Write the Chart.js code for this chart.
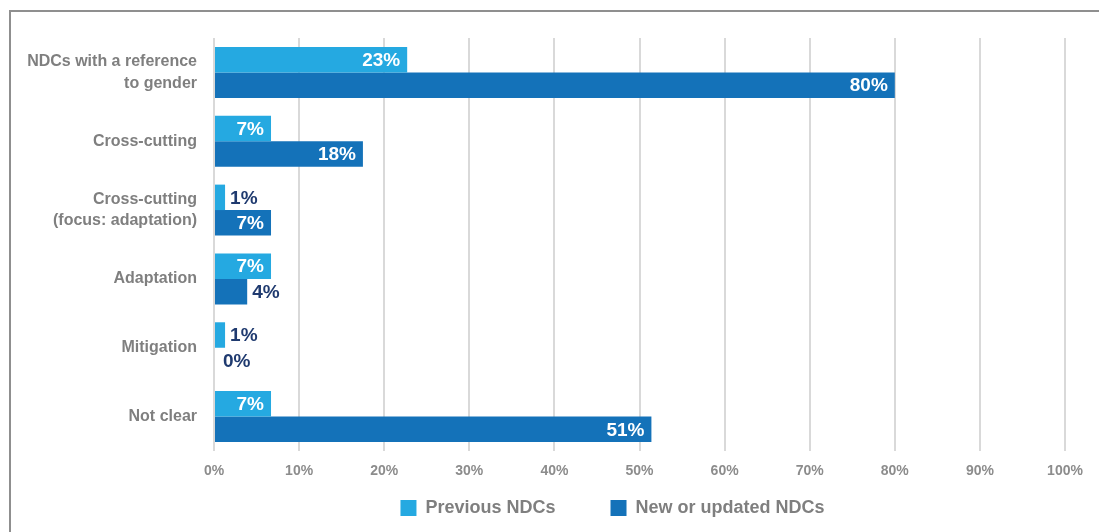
<!DOCTYPE html>
<html>
<head>
<meta charset="utf-8">
<script src="https://cdn.jsdelivr.net/npm/chart.js@4.4.1/dist/chart.umd.min.js"></script>
<style>
  html, body { margin: 0; padding: 0; background: #fff; }
  #wrap { position: relative; width: 1099px; height: 532px; overflow: hidden; }
  #frame { position: absolute; left: 9px; top: 10px; width: 1200px; height: 600px;
           border-top: 2px solid #8f8f8f; border-left: 2px solid #8f8f8f; }
  #chart { position: absolute; left: 0; top: 0; }
</style>
</head>
<body>
<div id="wrap">
  <div id="frame"></div>
  <canvas id="chart" width="1099" height="532"></canvas>
</div>
<script>
const categories = [
  ['NDCs with a reference', 'to gender'],
  'Cross-cutting',
  ['Cross-cutting', '(focus: adaptation)'],
  'Adaptation',
  'Mitigation',
  'Not clear'
];
const previousNdcs = [22.7, 6.7, 1.3, 6.7, 1.3, 6.7];
const newNdcs = [80, 17.5, 6.7, 3.9, 0, 51.4];
const xTicks = [0, 10, 20, 30, 40, 50, 60, 70, 80, 90, 100];

const FONT = "'Liberation Sans', Arial, sans-serif";
const GREY = '#7f7f7f';

// value labels: white inside the bar end, navy just past it when the bar is short
const barLabels = {
  id: 'barLabels',
  afterDatasetsDraw(chart) {
    const ctx = chart.ctx;
    ctx.save();
    ctx.font = 'bold 19px ' + FONT;
    ctx.textBaseline = 'middle';
    chart.data.datasets.forEach((ds, i) => {
      const meta = chart.getDatasetMeta(i);
      meta.data.forEach((bar, j) => {
        const v = ds.data[j];
        const txt = Math.round(v) + '%';
        if (v >= 5) {
          ctx.fillStyle = '#ffffff';
          ctx.textAlign = 'right';
          ctx.fillText(txt, bar.x - 7, bar.y + 1);
        } else {
          ctx.fillStyle = '#1f3a6f';
          ctx.textAlign = 'left';
          ctx.fillText(txt, bar.x + (v > 0 ? 5 : 9), bar.y + 1);
        }
      });
    });
    ctx.restore();
  }
};

new Chart(document.getElementById('chart'), {
  type: 'bar',
  data: {
    labels: categories,
    datasets: [
      { label: 'Previous NDCs', data: previousNdcs, backgroundColor: '#25a9e1' },
      { label: 'New or updated NDCs', data: newNdcs, backgroundColor: '#1472b9' }
    ]
  },
  options: {
    indexAxis: 'y',
    responsive: false,
    animation: false,
    devicePixelRatio: 1,
    datasets: { bar: { categoryPercentage: 0.74, barPercentage: 1 } },
    layout: { padding: { top: 38, right: 34, bottom: 5, left: 0 } },
    scales: {
      x: {
        min: 0,
        max: 100,
        afterBuildTicks: (scale) => { scale.ticks = xTicks.map(v => ({ value: v })); },
        afterFit: (scale) => { scale.height = 38; },
        grid: { color: '#d9d9d9', lineWidth: 2, drawTicks: false },
        border: { display: false },
        ticks: {
          padding: 12,
          color: '#8c8c8c',
          font: { family: FONT, size: 14, weight: 'bold' },
          callback: (v) => v + '%'
        }
      },
      y: {
        afterFit: (scale) => { scale.width = 214; },
        grid: { display: false, drawTicks: false },
        border: { display: false },
        ticks: {
          padding: 17,
          color: GREY,
          font: { family: FONT, size: 16, weight: 'bold', lineHeight: 1.35 }
        }
      }
    },
    plugins: {
      tooltip: { enabled: false },
      legend: {
        position: 'bottom',
        fullSize: false,
        labels: {
          boxWidth: 16,
          boxHeight: 16,
          padding: 10,
          color: GREY,
          font: { family: FONT, size: 18, weight: 'bold' },
          generateLabels: (chart) => {
            const items = Chart.defaults.plugins.legend.labels.generateLabels(chart);
            // widen the gap between the entries and nudge the row left
            items[0].text = items[0].text + '\u2002\u2002\u2002\u2002\u2002';
            items[1].text = items[1].text + '\u2003\u2003\u2003';
            items.forEach(it => { it.lineWidth = 0; });
            return items;
          }
        }
      }
    }
  },
  plugins: [barLabels]
});
</script>
</body>
</html>
